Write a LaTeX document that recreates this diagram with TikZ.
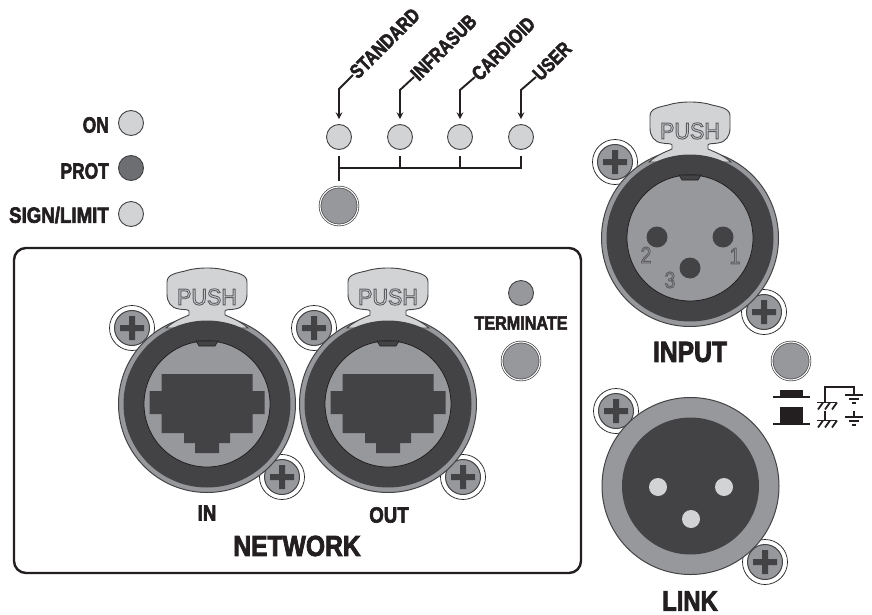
\documentclass[tikz,border=0pt]{standalone}
\usepackage{fontspec}
\setmainfont{Liberation Sans}
\newfontfamily\heavyfont[BoldFeatures={FakeBold=3}]{Liberation Sans}
\newfontfamily\hollowfont[FakeBold=4]{Liberation Sans}
\usetikzlibrary{calc}
\definecolor{darkgrey}{HTML}{434345}
\definecolor{midgrey}{HTML}{97989B}
\definecolor{lightgrey}{HTML}{D1D3D4}
\definecolor{protgrey}{HTML}{6D6E71}
\definecolor{inkblack}{HTML}{231F20}
\newcommand{\hollowtxt}[2]{\textcolor{#1}{\special{pdf:code 0.36 0.36 0.38 RG}#2}}
\tikzset{
  lbl/.style={font=\heavyfont\bfseries\fontsize{#1}{#1}\selectfont,text=inkblack,inner sep=0pt,xscale=.85,transform shape},
  num/.style={font=\hollowfont\fontsize{23}{23}\selectfont,inner sep=0pt,xscale=.85,transform shape},
  led/.style={circle,draw=darkgrey,line width=.9pt,minimum size=25pt,inner sep=0pt,fill=lightgrey},
  btn/.style={circle,draw=darkgrey,line width=.7pt,double=white,double distance=1.1pt,minimum size=38pt,inner sep=0pt,fill=midgrey},
  bus/.style={draw=inkblack,line width=2pt},
  ptr/.style={draw=inkblack,line width=1.9pt,-stealth,shorten >=5pt},
  sym/.style={draw=inkblack,line width=1.8pt},
  pics/screw/.style={code={
    \draw[inkblack,line width=.7pt,fill=white] (0,0) circle (22.5);
    \draw[darkgrey,line width=1pt,fill=midgrey] (0,0) circle (17.5);
    \fill[darkgrey] (-12,-3) rectangle (12,3) (-3,-12) rectangle (3,12);
  }},
  pics/shell/.style={code={
    \draw[darkgrey,line width=1pt,fill=midgrey] (0,0) circle (88.5);
    \draw[darkgrey,line width=.9pt,fill=lightgrey] (-41,-76) .. controls (-32,-84) and (-22,-87) .. (-18,-89) -- (-18,-93)
      .. controls (-19,-95) and (-24,-94) .. (-28,-95) .. controls (-36,-96) and (-40,-102) .. (-40,-110) -- (-40,-122)
      .. controls (-40,-130) and (-30,-131) .. (-22,-133) .. controls (-10,-137) and (10,-137) .. (22,-133)
      .. controls (30,-131) and (40,-130) .. (40,-122) -- (40,-110) .. controls (40,-102) and (36,-96) .. (28,-95)
      .. controls (24,-94) and (19,-95) .. (18,-93) -- (18,-89) .. controls (22,-87) and (32,-84) .. (41,-76) -- cycle;
    \fill[darkgrey] (0,0) circle (83.5);
    \draw[inkblack,line width=.8pt,fill=midgrey] (0,0) circle (63);
    \draw[inkblack,line width=.6pt,fill=darkgrey] (-11,-63) -- (-8,-58) -- (8,-58) -- (11,-63) -- cycle;
    \node[num,xscale=1.1] at (0,-107) {\hollowtxt{lightgrey}{PUSH}};
  }},
  pics/rjport/.style={code={
    \fill[darkgrey] (-45.5,-30) -- (45.5,-30) -- (45.5,-13) -- (57.5,-13) -- (57.5,10) -- (45.5,10) -- (45.5,29) -- (23,29)
      -- (23,39) -- (12,39) -- (12,49) -- (-12,49) -- (-12,39) -- (-23,39) -- (-23,29) -- (-45.5,29) -- (-45.5,10)
      -- (-57.5,10) -- (-57.5,-13) -- (-45.5,-13) -- cycle;
  }},
  pics/chassis/.style={code={
    \draw[sym] (-9,0) -- (10,0);
    \foreach \sx in {-3,4,11} \draw[sym] (\sx,0) -- ++(-5,7);
  }},
  pics/earth/.style={code={
    \draw[sym] (-9,0) -- (9,0);
    \draw[sym] (-5,4) -- (5,4);
    \draw[sym] (-2,8) -- (2,8);
  }}
}
\begin{document}
\begin{tikzpicture}[x=1pt,y=-1pt]
\useasboundingbox (0,0) rectangle (872,615);
% network panel
\draw[inkblack,line width=2.4pt,rounded corners=12pt] (14,248) rectangle (581,573);
% status leds
\node[led] (ledon) at (131,123) {};
\node[led,fill=protgrey] (ledprot) at (131,168) {};
\node[led] (ledsign) at (131,214) {};
\node[lbl=22,anchor=east,xscale=.93] (txton) at (109,125) {ON};
\node[lbl=22,anchor=east,xscale=.93] (txtprot) at (109,171) {PROT};
\node[lbl=22,anchor=east] (txtsign) at (109,215) {SIGN/LIMIT};
% preset selector
\node[led] (ledstd) at (339,137) {};
\node[led] (ledinf) at (400,137) {};
\node[led] (ledcar) at (460,137) {};
\node[led] (ledusr) at (521,137) {};
\node[btn] (btnpreset) at (339,206) {};
\coordinate (busleft) at (339,168);
\draw[bus,shorten <=6.5pt,shorten >=6pt] (ledstd.south) -- (btnpreset.north);
\draw[bus] (busleft) -| ([yshift=-6.5pt]ledusr.south);
\draw[bus,shorten <=6.5pt] (ledinf.south) -- (ledinf |- busleft);
\draw[bus,shorten <=6.5pt] (ledcar.south) -- (ledcar |- busleft);
\node[rotate=45,lbl=20,anchor=west,xscale=.95] (txtstd) at (353,75) {STANDARD};
\node[rotate=45,lbl=20,anchor=west,xscale=.95] (txtinf) at (414,77) {INFRASUB};
\node[rotate=45,lbl=20,anchor=west,xscale=.95] (txtcar) at (475,77) {CARDIOID};
\node[rotate=45,lbl=20,anchor=west,xscale=.95] (txtusr) at (536,77) {USER};
\draw[ptr] (txtstd.west) -- ++(-14,14) -- (ledstd.north);
\draw[ptr] (txtinf.west) -- ++(-14,13) -- (ledinf.north);
\draw[ptr] (txtcar.west) -- ++(-15,13) -- (ledcar.north);
\draw[ptr] (txtusr.west) -- ++(-15,13) -- (ledusr.north);
% network connectors
\pic at (132,328) {screw};
\pic at (282,477) {screw};
\pic at (207,404) {shell};
\pic at (207,404) {rjport};
\pic at (314,328) {screw};
\pic at (463,477) {screw};
\pic at (388,404) {shell};
\pic at (388,404) {rjport};
\node[lbl=22] (txtin) at (207,513) {IN};
\node[lbl=22] (txtout) at (389,515) {OUT};
\node[lbl=29] (txtnet) at (297,546) {NETWORK};
\node[led,fill=midgrey] (ledterm) at (521,293) {};
\node[lbl=19] (txtterm) at (521,323) {TERMINATE};
\node[btn] (btnterm) at (521,361) {};
% input connector
\pic at (615,162) {screw};
\pic at (764,312) {screw};
\pic at (690,238) {shell};
\foreach \px/\py in {657/237,723/237,690/268} \fill[darkgrey] (\px,\py) circle (10.5);
\node[num] (pintwo) at (646,255) {\hollowtxt{midgrey}{2}};
\node[num] (pinone) at (735,256) {\hollowtxt{midgrey}{1}};
\node[num] (pinthree) at (670,280) {\hollowtxt{midgrey}{3}};
\node[lbl=29] (txtinput) at (690,352) {INPUT};
% link connector
\pic at (616,411) {screw};
\pic at (765,562) {screw};
\draw[darkgrey,line width=1pt,fill=midgrey] (690.5,486) circle (88.5);
\fill[darkgrey] (690.5,486) circle (68.5);
\foreach \px/\py in {658/487,724/487,691/519} \fill[lightgrey] (\px,\py) circle (9);
\node[lbl=28] (txtlink) at (690,601) {LINK};
% ground lift switch
\node[btn] (btnlift) at (791,361) {};
\fill[inkblack] (780,390) rectangle (803,397);
\fill[inkblack] (780,407) rectangle (803,424);
\draw[inkblack,line width=2.2pt] (773,397) -- (810,397) (773,424) -- (810,424);
\pic at (826,402.5) {chassis};
\pic at (826,420.5) {chassis};
\pic at (854,395) {earth};
\pic at (854,417) {earth};
\draw[sym] (825,402.5) -- (825,386.7) -- (854,386.7) -- (854,395);
\draw[sym] (825,410.7) -- (825,420.5);
\draw[sym] (854,410.7) -- (854,417);
\end{tikzpicture}
\end{document}
